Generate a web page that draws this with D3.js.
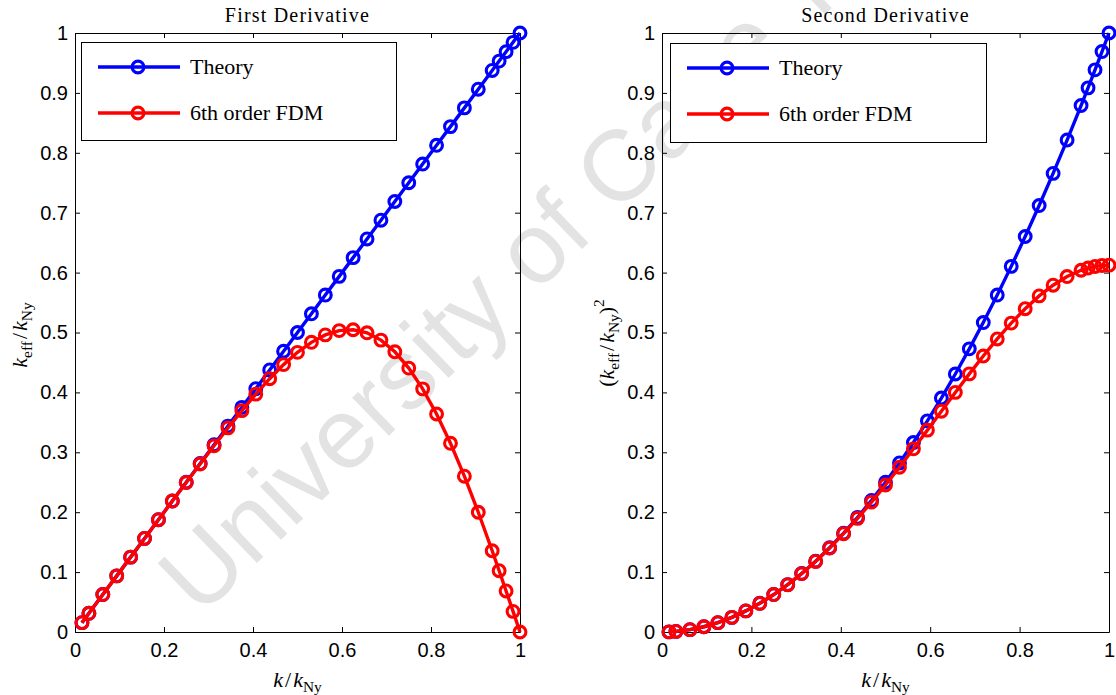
<!DOCTYPE html>
<html><head><meta charset="utf-8">
<script src="https://cdn.jsdelivr.net/npm/d3@7"></script>
<style>body{margin:0;background:#fff;} svg{display:block;}</style>
</head><body>
<svg id="chart" width="1116" height="695"></svg>
<script>
// ---- data ----
const kValues = [0.015625, 0.03125, 0.0625, 0.09375, 0.125, 0.15625, 0.1875, 0.21875, 0.25, 0.28125,
  0.3125, 0.34375, 0.375, 0.40625, 0.4375, 0.46875, 0.5, 0.53125, 0.5625, 0.59375,
  0.625, 0.65625, 0.6875, 0.71875, 0.75, 0.78125, 0.8125, 0.84375, 0.875, 0.90625,
  0.9375, 0.953125, 0.96875, 0.984375, 1];
const theoryFirst = [0.0156, 0.0312, 0.0625, 0.0937, 0.125, 0.1562, 0.1875, 0.2187, 0.25, 0.2812,
  0.3125, 0.3437, 0.375, 0.4062, 0.4375, 0.4687, 0.5, 0.5312, 0.5625, 0.5937,
  0.625, 0.6562, 0.6875, 0.7187, 0.75, 0.7812, 0.8125, 0.8437, 0.875, 0.9062,
  0.9375, 0.9531, 0.9687, 0.9844, 1];
const fdmFirst = [0.0156, 0.0312, 0.0625, 0.0937, 0.1250, 0.1562, 0.1875, 0.2186, 0.2496, 0.2804,
  0.3108, 0.3407, 0.3695, 0.3971, 0.4229, 0.4464, 0.4669, 0.4836, 0.4960, 0.5032,
  0.5046, 0.4995, 0.4873, 0.4678, 0.4406, 0.4059, 0.3639, 0.3150, 0.2601, 0.1999,
  0.1356, 0.1023, 0.0685, 0.0344, 0];
const theorySecond = [0.0002, 0.0010, 0.0039, 0.0088, 0.0156, 0.0244, 0.0352, 0.0479, 0.0625, 0.0791,
  0.0977, 0.1182, 0.1406, 0.1650, 0.1914, 0.2197, 0.25, 0.2822, 0.3164, 0.3525,
  0.3906, 0.4307, 0.4727, 0.5166, 0.5625, 0.6104, 0.6602, 0.7119, 0.7656, 0.8213,
  0.8789, 0.9084, 0.9385, 0.9690, 1];
const fdmSecond = [0.0002, 0.0010, 0.0039, 0.0088, 0.0156, 0.0244, 0.0352, 0.0478, 0.0625, 0.0790,
  0.0975, 0.1179, 0.1401, 0.1641, 0.1897, 0.2169, 0.2454, 0.2751, 0.3058, 0.3370,
  0.3686, 0.4000, 0.4309, 0.4607, 0.4892, 0.5157, 0.5397, 0.5611, 0.5790, 0.5934,
  0.6039, 0.6076, 0.6103, 0.6119, 0.6124];
const xTickValues = [0, 0.2, 0.4, 0.6, 0.8, 1];
const yTickValues = [0, 0.1, 0.2, 0.3, 0.4, 0.5, 0.6, 0.7, 0.8, 0.9, 1];
const seriesNames = ["Theory", "6th order FDM"];
const seriesColors = ["#0000ff", "#ff0000"];
const panelTitles = ["First Derivative", "Second Derivative"];
const watermarkText = "University of Cape Town";

// ---- drawing ----
const svg = d3.select("#chart");
const SERIF = "'Liberation Serif','Times New Roman',serif";
const SANS = "'Liberation Sans',Arial,Helvetica,sans-serif";

svg.append("text")
  .attr("transform", "translate(200,618) rotate(-44)")
  .style("font-family", SANS).attr("font-size", 100)
  .attr("fill", "#e3e3e3")
  .text(watermarkText);

const yTop = 33, yBot = 632;
const fmt = d => d === 0 ? "0" : d === 1 ? "1" : d3.format(".1f")(d);

function richText(sel, parts, size) {
  const t = sel.append("text").style("font-family", SERIF).attr("font-size", size)
    .attr("text-anchor", "middle").attr("fill", "#000");
  let cur = 0;
  parts.forEach(p => {
    const sh = p.shift || 0;
    const ts = t.append("tspan").text(p.t)
      .attr("dy", sh - cur)
      .attr("font-size", p.small ? size * 0.7 : size)
      .attr("font-style", p.it ? "italic" : "normal");
    if (p.dx) ts.attr("dx", p.dx);
    cur = sh;
  });
  return t;
}

const panels = [
  { x0: 75, x1: 520, title: panelTitles[0], series: [theoryFirst, fdmFirst], lx: 81, ly: 42, lw: 315, lh: 98, second: false },
  { x0: 662, x1: 1109, title: panelTitles[1], series: [theorySecond, fdmSecond], lx: 670, ly: 43, lw: 316, lh: 99, second: true }
];

panels.forEach(p => {
  const x = d3.scaleLinear().domain([0, 1]).range([p.x0, p.x1]);
  const y = d3.scaleLinear().domain([0, 1]).range([yBot, yTop]);
  const g = svg.append("g");

  const axes = g.append("g");
  axes.append("g").attr("transform", `translate(0,${yBot})`)
    .call(d3.axisBottom(x).tickValues(xTickValues).tickSizeInner(-5).tickSizeOuter(0).tickPadding(11).tickFormat(fmt));
  axes.append("g").attr("transform", `translate(0,${yTop})`)
    .call(d3.axisTop(x).tickValues(xTickValues).tickSizeInner(-5).tickSizeOuter(0).tickFormat(""));
  axes.append("g").attr("transform", `translate(${p.x0},0)`)
    .call(d3.axisLeft(y).tickValues(yTickValues).tickSizeInner(-5).tickSizeOuter(0).tickPadding(7).tickFormat(fmt));
  axes.append("g").attr("transform", `translate(${p.x1},0)`)
    .call(d3.axisRight(y).tickValues(yTickValues).tickSizeInner(-5).tickSizeOuter(0).tickFormat(""));
  axes.selectAll("g").attr("font-family", null);
  axes.selectAll("text").style("font-family", SANS).attr("font-size", 20).attr("fill", "#000");
  axes.selectAll("path,line").attr("stroke", "#000");

  // series
  p.series.forEach((vals, i) => {
    const pts = kValues.map((k, j) => [k, vals[j]]);
    g.append("path").datum(pts)
      .attr("fill", "none").attr("stroke", seriesColors[i]).attr("stroke-width", 3.4)
      .attr("d", d3.line().x(d => x(d[0])).y(d => y(d[1])));
    g.append("g").selectAll("circle").data(pts).join("circle")
      .attr("cx", d => x(d[0])).attr("cy", d => y(d[1])).attr("r", 5.9)
      .attr("fill", "none").attr("stroke", seriesColors[i]).attr("stroke-width", 3.1);
  });

  // legend
  const lg = g.append("g").attr("transform", `translate(${p.lx},${p.ly})`);
  lg.append("rect").attr("x", 0.5).attr("y", 0.5).attr("width", p.lw).attr("height", p.lh)
    .attr("fill", "#fff").attr("stroke", "#000").attr("stroke-width", 1);
  seriesNames.forEach((name, i) => {
    const yy = 25 + i * 46;
    lg.append("line").attr("x1", 17).attr("x2", 99).attr("y1", yy).attr("y2", yy)
      .attr("stroke", seriesColors[i]).attr("stroke-width", 3.4);
    lg.append("circle").attr("cx", 57).attr("cy", yy).attr("r", 5.9)
      .attr("fill", "none").attr("stroke", seriesColors[i]).attr("stroke-width", 3.1);
    lg.append("text").attr("x", 109).attr("y", yy).attr("dy", "0.33em")
      .style("font-family", SERIF).attr("font-size", 22).attr("fill", "#000").text(name);
  });

  // title
  const cx = (p.x0 + p.x1) / 2;
  g.append("text").attr("x", cx).attr("y", 22).attr("text-anchor", "middle")
    .style("font-family", SERIF).attr("font-size", 20).attr("letter-spacing", 1.2)
    .attr("fill", "#000").text(p.title);

  // x label
  const xl = g.append("g").attr("transform", `translate(${cx},687)`);
  richText(xl, [{ t: "k", it: true }, { t: "/", dx: 2 }, { t: "k", it: true, dx: 2 }, { t: "Ny", small: true, shift: 5 }], 22);

  // y label
  if (!p.second) {
    const yl = g.append("g").attr("transform", `translate(27,335) rotate(-90)`);
    richText(yl, [{ t: "k", it: true }, { t: "eff", small: true, shift: 5 }, { t: "/", dx: 2 },
      { t: "k", it: true, dx: 2 }, { t: "Ny", small: true, shift: 5 }], 22);
  } else {
    const yl = g.append("g").attr("transform", `translate(614,343) rotate(-90)`);
    richText(yl, [{ t: "(" }, { t: "k", it: true }, { t: "eff", small: true, shift: 5 }, { t: "/", dx: 2 },
      { t: "k", it: true, dx: 2 }, { t: "Ny", small: true, shift: 5 }, { t: ")" }, { t: "2", small: true, shift: -10 }], 22);
  }
});
</script>
</body></html>
